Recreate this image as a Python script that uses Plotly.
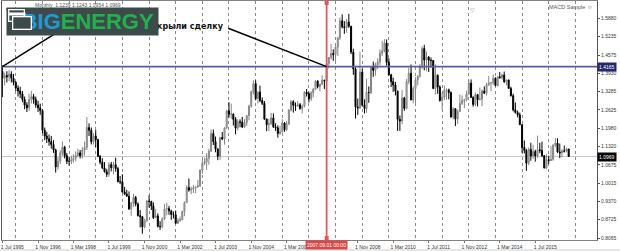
import pandas as pd
import plotly.graph_objects as go

# ---------------- data (EURUSD monthly, Jul 1995 - Oct 2016) ----------------
OPEN = [
    1.400, 1.375, 1.385, 1.380, 1.390, 1.375,
    1.360, 1.340, 1.330, 1.320, 1.300, 1.280, 1.270, 1.300, 1.310, 1.300, 1.280, 1.270,
    1.260, 1.190, 1.170, 1.160, 1.150, 1.140, 1.120, 1.060, 1.080, 1.110, 1.130, 1.100,
    1.080, 1.080, 1.085, 1.090, 1.100, 1.110, 1.100, 1.120, 1.130, 1.200, 1.190, 1.150,
    1.170, 1.157, 1.098, 1.077, 1.057, 1.043, 1.034, 1.069, 1.057, 1.068, 1.054, 1.008,
    1.007, 0.971, 0.964, 0.956, 0.911, 0.932, 0.952, 0.928, 0.887, 0.883, 0.847, 0.868,
    0.939, 0.937, 0.921, 0.880, 0.886, 0.849, 0.848, 0.876, 0.911, 0.912, 0.904, 0.891,
    0.890, 0.860, 0.870, 0.872, 0.902, 0.933, 0.987, 0.978, 0.981, 0.987, 0.989, 0.993,
    1.049, 1.073, 1.078, 1.091, 1.116, 1.179, 1.150, 1.124, 1.098, 1.165, 1.159, 1.199,
    1.259, 1.247, 1.248, 1.229, 1.198, 1.220, 1.219, 1.202, 1.217, 1.242, 1.276, 1.327,
    1.356, 1.303, 1.326, 1.296, 1.286, 1.230, 1.210, 1.213, 1.234, 1.202, 1.199, 1.179,
    1.184, 1.216, 1.192, 1.212, 1.262, 1.292, 1.279, 1.277, 1.281, 1.268, 1.276, 1.325,
    1.320, 1.302, 1.323, 1.336, 1.365, 1.345, 1.354, 1.368, 1.366, 1.427, 1.449, 1.463,
    1.459, 1.486, 1.518, 1.579, 1.558, 1.555, 1.575, 1.560, 1.468, 1.408, 1.273, 1.270,
    1.397, 1.280, 1.267, 1.325, 1.324, 1.415, 1.403, 1.424, 1.433, 1.464, 1.472, 1.500,
    1.432, 1.387, 1.363, 1.351, 1.329, 1.229, 1.223, 1.305, 1.268, 1.363, 1.393, 1.298,
    1.338, 1.369, 1.381, 1.416, 1.481, 1.440, 1.450, 1.439, 1.438, 1.339, 1.386, 1.344,
    1.296, 1.308, 1.333, 1.334, 1.324, 1.237, 1.267, 1.230, 1.257, 1.286, 1.296, 1.299,
    1.319, 1.358, 1.307, 1.282, 1.317, 1.299, 1.301, 1.330, 1.322, 1.352, 1.359, 1.359,
    1.375, 1.349, 1.380, 1.377, 1.387, 1.363, 1.369, 1.339, 1.313, 1.263, 1.253, 1.245,
    1.210, 1.129, 1.119, 1.073, 1.122, 1.099, 1.115, 1.099, 1.121, 1.118, 1.100, 1.056,
    1.086, 1.083, 1.087, 1.138, 1.145, 1.113, 1.110, 1.117, 1.116, 1.1239,
]
HIGH = [
    1.420, 1.395, 1.400, 1.405, 1.400, 1.390,
    1.365, 1.350, 1.345, 1.330, 1.310, 1.290, 1.320, 1.330, 1.320, 1.310, 1.295, 1.285,
    1.265, 1.200, 1.185, 1.175, 1.170, 1.155, 1.125, 1.095, 1.120, 1.150, 1.135, 1.110,
    1.095, 1.100, 1.105, 1.115, 1.125, 1.120, 1.130, 1.150, 1.237, 1.215, 1.200, 1.180,
    1.191, 1.160, 1.102, 1.091, 1.077, 1.053, 1.077, 1.078, 1.078, 1.093, 1.060, 1.028,
    1.034, 0.989, 0.979, 0.973, 0.936, 0.964, 0.957, 0.934, 0.907, 0.886, 0.876, 0.943,
    0.959, 0.940, 0.934, 0.911, 0.895, 0.867, 0.881, 0.928, 0.933, 0.922, 0.908, 0.902,
    0.905, 0.878, 0.884, 0.904, 0.938, 0.995, 1.019, 0.990, 0.996, 0.990, 1.014, 1.050,
    1.087, 1.093, 1.109, 1.125, 1.193, 1.193, 1.168, 1.126, 1.166, 1.184, 1.200, 1.263,
    1.290, 1.285, 1.250, 1.237, 1.229, 1.229, 1.238, 1.230, 1.245, 1.281, 1.331, 1.367,
    1.367, 1.328, 1.349, 1.307, 1.294, 1.232, 1.231, 1.252, 1.250, 1.215, 1.208, 1.206,
    1.230, 1.219, 1.223, 1.265, 1.298, 1.297, 1.289, 1.294, 1.287, 1.282, 1.329, 1.337,
    1.327, 1.329, 1.340, 1.368, 1.368, 1.355, 1.386, 1.370, 1.428, 1.450, 1.497, 1.478,
    1.489, 1.522, 1.591, 1.602, 1.578, 1.585, 1.604, 1.561, 1.480, 1.414, 1.303, 1.470,
    1.409, 1.300, 1.374, 1.346, 1.418, 1.434, 1.430, 1.446, 1.478, 1.508, 1.514, 1.513,
    1.446, 1.391, 1.377, 1.362, 1.331, 1.243, 1.333, 1.309, 1.373, 1.413, 1.424, 1.346,
    1.379, 1.386, 1.425, 1.488, 1.494, 1.470, 1.454, 1.449, 1.440, 1.424, 1.388, 1.350,
    1.323, 1.349, 1.339, 1.338, 1.328, 1.272, 1.268, 1.264, 1.317, 1.314, 1.302, 1.331,
    1.370, 1.371, 1.311, 1.324, 1.318, 1.342, 1.335, 1.346, 1.359, 1.383, 1.361, 1.389,
    1.378, 1.383, 1.397, 1.390, 1.399, 1.370, 1.370, 1.345, 1.320, 1.289, 1.260, 1.253,
    1.212, 1.154, 1.124, 1.129, 1.146, 1.139, 1.121, 1.171, 1.146, 1.150, 1.102, 1.105,
    1.100, 1.134, 1.140, 1.162, 1.162, 1.143, 1.123, 1.136, 1.129, 1.1243,
]
LOW = [
    1.308, 1.350, 1.360, 1.365, 1.360, 1.350,
    1.330, 1.310, 1.305, 1.290, 1.265, 1.255, 1.260, 1.285, 1.285, 1.270, 1.255, 1.245,
    1.180, 1.155, 1.145, 1.135, 1.125, 1.110, 1.040, 1.050, 1.070, 1.100, 1.090, 1.070,
    1.065, 1.070, 1.075, 1.080, 1.095, 1.090, 1.090, 1.100, 1.120, 1.170, 1.140, 1.140,
    1.130, 1.095, 1.069, 1.052, 1.040, 1.024, 1.025, 1.044, 1.034, 1.043, 1.005, 0.999,
    0.968, 0.960, 0.955, 0.907, 0.886, 0.918, 0.920, 0.884, 0.845, 0.823, 0.842, 0.865,
    0.915, 0.907, 0.875, 0.878, 0.845, 0.836, 0.842, 0.872, 0.888, 0.890, 0.872, 0.877,
    0.858, 0.857, 0.865, 0.871, 0.885, 0.932, 0.972, 0.963, 0.967, 0.966, 0.986, 0.988,
    1.035, 1.066, 1.050, 1.068, 1.113, 1.138, 1.112, 1.084, 1.085, 1.155, 1.139, 1.195,
    1.235, 1.231, 1.207, 1.176, 1.190, 1.201, 1.198, 1.199, 1.206, 1.226, 1.270, 1.317,
    1.297, 1.285, 1.290, 1.280, 1.227, 1.187, 1.187, 1.210, 1.199, 1.188, 1.164, 1.173,
    1.183, 1.185, 1.188, 1.209, 1.257, 1.253, 1.259, 1.273, 1.263, 1.250, 1.271, 1.310,
    1.289, 1.294, 1.307, 1.333, 1.339, 1.329, 1.351, 1.337, 1.361, 1.410, 1.442, 1.437,
    1.429, 1.454, 1.511, 1.552, 1.533, 1.537, 1.554, 1.461, 1.387, 1.232, 1.245, 1.266,
    1.274, 1.250, 1.252, 1.288, 1.319, 1.380, 1.384, 1.408, 1.421, 1.454, 1.467, 1.420,
    1.385, 1.344, 1.327, 1.314, 1.188, 1.188, 1.212, 1.259, 1.265, 1.354, 1.297, 1.286,
    1.287, 1.349, 1.378, 1.408, 1.403, 1.400, 1.397, 1.413, 1.336, 1.317, 1.320, 1.292,
    1.263, 1.298, 1.299, 1.300, 1.236, 1.229, 1.205, 1.213, 1.256, 1.280, 1.269, 1.293,
    1.317, 1.306, 1.274, 1.276, 1.275, 1.297, 1.276, 1.319, 1.314, 1.348, 1.329, 1.352,
    1.347, 1.346, 1.374, 1.370, 1.358, 1.350, 1.337, 1.310, 1.257, 1.250, 1.236, 1.209,
    1.110, 1.108, 1.046, 1.066, 1.082, 1.089, 1.079, 1.091, 1.109, 1.095, 1.055, 1.052,
    1.071, 1.081, 1.082, 1.131, 1.110, 1.091, 1.095, 1.111, 1.112, 1.0954,
]
CLOSE = [
    1.375, 1.385, 1.380, 1.390, 1.375, 1.360,
    1.340, 1.330, 1.320, 1.300, 1.280, 1.270, 1.300, 1.310, 1.300, 1.280, 1.270, 1.260,
    1.190, 1.170, 1.160, 1.150, 1.140, 1.120, 1.060, 1.080, 1.110, 1.130, 1.100, 1.080,
    1.080, 1.085, 1.090, 1.100, 1.110, 1.100, 1.120, 1.130, 1.200, 1.190, 1.150, 1.170,
    1.157, 1.098, 1.077, 1.057, 1.043, 1.034, 1.069, 1.057, 1.068, 1.054, 1.008, 1.007,
    0.971, 0.964, 0.956, 0.911, 0.932, 0.952, 0.928, 0.887, 0.883, 0.847, 0.868, 0.939,
    0.937, 0.921, 0.880, 0.886, 0.849, 0.848, 0.876, 0.911, 0.912, 0.904, 0.891, 0.890,
    0.860, 0.870, 0.872, 0.902, 0.933, 0.987, 0.978, 0.981, 0.987, 0.989, 0.993, 1.049,
    1.073, 1.078, 1.091, 1.116, 1.179, 1.150, 1.124, 1.098, 1.165, 1.159, 1.199, 1.259,
    1.247, 1.248, 1.229, 1.198, 1.220, 1.219, 1.202, 1.217, 1.242, 1.276, 1.327, 1.356,
    1.303, 1.326, 1.296, 1.286, 1.230, 1.210, 1.213, 1.234, 1.202, 1.199, 1.179, 1.184,
    1.216, 1.192, 1.212, 1.262, 1.292, 1.279, 1.277, 1.281, 1.268, 1.276, 1.325, 1.320,
    1.302, 1.323, 1.336, 1.365, 1.345, 1.354, 1.368, 1.366, 1.427, 1.449, 1.463, 1.459,
    1.486, 1.518, 1.579, 1.558, 1.555, 1.575, 1.560, 1.468, 1.408, 1.273, 1.270, 1.397,
    1.280, 1.267, 1.325, 1.324, 1.415, 1.403, 1.424, 1.433, 1.464, 1.472, 1.500, 1.432,
    1.387, 1.363, 1.351, 1.329, 1.229, 1.223, 1.305, 1.268, 1.363, 1.393, 1.298, 1.338,
    1.369, 1.381, 1.416, 1.481, 1.440, 1.450, 1.439, 1.438, 1.339, 1.386, 1.344, 1.296,
    1.308, 1.333, 1.334, 1.324, 1.237, 1.267, 1.230, 1.257, 1.286, 1.296, 1.299, 1.319,
    1.358, 1.307, 1.282, 1.317, 1.299, 1.301, 1.330, 1.322, 1.352, 1.359, 1.359, 1.375,
    1.349, 1.380, 1.377, 1.387, 1.363, 1.369, 1.339, 1.313, 1.263, 1.253, 1.245, 1.210,
    1.129, 1.119, 1.073, 1.122, 1.099, 1.115, 1.099, 1.121, 1.118, 1.100, 1.056, 1.086,
    1.083, 1.087, 1.138, 1.145, 1.113, 1.110, 1.117, 1.116, 1.124, 1.0969,
]
DATES = pd.date_range("1995-07-01", periods=len(CLOSE), freq="MS")

X_TICKS = ["1995-07-01", "1996-11-01", "1998-03-01", "1999-07-01", "2000-11-01",
           "2002-03-01", "2003-07-01", "2004-11-01", "2006-03-01", "2007-07-01",
           "2008-11-01", "2010-03-01", "2011-07-01", "2012-11-01", "2014-03-01",
           "2015-07-01"]
X_TICKTEXT = ["1 Jul 1995", "1 Nov 1996", "1 Mar 1998", "1 Jul 1999", "1 Nov 2000",
              "1 Mar 2002", "1 Jul 2003", "1 Nov 2004", "1 Mar 2006", "1 Jul 2007",
              "1 Nov 2008", "1 Mar 2010", "1 Jul 2011", "1 Nov 2012", "1 Mar 2014",
              "1 Jul 2015"]
Y_TICKS = [1.5880, 1.5235, 1.4575, 1.3930, 1.3285, 1.2625, 1.1980, 1.1320,
           1.0675, 1.0015, 0.9370, 0.8725, 0.8065]
Y_TICKTEXT = ["%.4f" % v for v in Y_TICKS]

LEVEL_BLUE = 1.4165          # horizontal level
LAST_PRICE = 1.0969          # current price line
CLOSE_DATE = "2007-09-01"    # vertical red line (deal closed)
LINE_A = (("1995-07-01", 1.4165), ("1998-01-01", 1.565))
LINE_B = (("2003-12-22", 1.5525), ("2007-09-01", 1.4165))
HEADER = "Monthly  1.1239 1.1243 1.0954 1.0969"

# ---------------- layout geometry ----------------
W, H = 620, 251
PL, PR, PT, PB = 2, 597, 1, 240
X_RANGE = ["1995-06-26", "2017-10-24"]
Y_RANGE = [0.8004, 1.6495]


def px(x):
    return (x - PL) / (PR - PL)


def py(y):
    return (PB - y) / (PB - PT)


fig = go.Figure()
fig.add_trace(go.Candlestick(
    x=DATES, open=OPEN, high=HIGH, low=LOW, close=CLOSE,
    increasing=dict(line=dict(color="#858585", width=1), fillcolor="#c4c4c4"),
    decreasing=dict(line=dict(color="#000000", width=1), fillcolor="#000000"),
    whiskerwidth=0, showlegend=False, hoverinfo="skip",
))
# helper trace so the yearly-grid axis is drawn
fig.add_trace(go.Scatter(x=X_RANGE, y=[Y_RANGE[0], Y_RANGE[0]], xaxis="x2",
                         mode="lines", line=dict(width=0), showlegend=False,
                         hoverinfo="skip"))
# small red squares at the ends of the vertical line
span = Y_RANGE[1] - Y_RANGE[0]
fig.add_trace(go.Scatter(x=[CLOSE_DATE, CLOSE_DATE],
                         y=[Y_RANGE[1] - 0.008 * span, Y_RANGE[0] + 0.008 * span],
                         mode="markers", marker=dict(symbol="square", size=4, color="#e05555"),
                         cliponaxis=False, showlegend=False, hoverinfo="skip"))

shapes = [
    dict(type="line", xref="paper", x0=0, x1=1, yref="y", y0=LAST_PRICE, y1=LAST_PRICE,
         line=dict(color="#c8c8c8", width=1), layer="below"),
    dict(type="line", xref="paper", x0=0, x1=1, yref="y", y0=LEVEL_BLUE, y1=LEVEL_BLUE,
         line=dict(color="#5a5e9e", width=1.8), layer="above"),
    dict(type="line", xref="x", x0=CLOSE_DATE, x1=CLOSE_DATE, yref="paper", y0=0, y1=1,
         line=dict(color="#e05a5a", width=1.8), layer="above"),
    dict(type="line", xref="x", yref="y", x0=LINE_A[0][0], y0=LINE_A[0][1],
         x1=LINE_A[1][0], y1=LINE_A[1][1], line=dict(color="#000000", width=1.5)),
    dict(type="line", xref="x", yref="y", x0=LINE_B[0][0], y0=LINE_B[0][1],
         x1=LINE_B[1][0], y1=LINE_B[1][1], line=dict(color="#000000", width=1.5)),
    # window strip at the bottom
    dict(type="rect", xref="paper", yref="paper", x0=px(0), x1=px(620), y0=py(251), y1=py(249),
         fillcolor="#e6e6e6", line=dict(width=0)),
]

small = dict(family="Liberation Sans, Arial, sans-serif", size=5, color="#333333")
annotations = [
    dict(text=HEADER, xref="paper", yref="paper", x=px(33), y=py(5), xanchor="left",
         yanchor="middle", showarrow=False, font=dict(family="Liberation Sans", size=5, color="#555555")),
    dict(text="▼", xref="paper", yref="paper", x=px(3.5), y=py(5), showarrow=False,
         font=dict(family="DejaVu Sans", size=4, color="#000000")),
    dict(text="▽", xref="paper", yref="paper", x=px(477), y=py(4), showarrow=False,
         font=dict(family="DejaVu Sans", size=6, color="#999999")),
    dict(text="MACD Sample ☺", xref="paper", yref="paper", x=px(595), y=py(7),
         xanchor="right", yanchor="middle", showarrow=False,
         font=dict(family="Liberation Sans, DejaVu Sans", size=5.5, color="#555555")),
    dict(text="<b>Закрыли сделку</b>", xref="paper", yref="paper", x=px(226), y=py(26),
         xanchor="right", yanchor="middle", showarrow=False,
         font=dict(family="DejaVu Sans", size=8, color="#111111")),
    # logo
    dict(text="<b><span style='color:#1e9ad6'>BIG</span><span style='color:#22b04c'>ENERGY</span></b>",
         xref="paper", yref="paper", x=px(6), y=py(6.7), xanchor="left", yanchor="top",
         width=143, height=19, borderpad=4, align="right", valign="middle",
         bgcolor="#3d4a4a", showarrow=False,
         font=dict(family="Liberation Sans Narrow, Liberation Sans", size=22, color="#1e9ad6")),
    # card icon in the logo
    dict(text=" ", xref="paper", yref="paper", x=px(8), y=py(9), xanchor="left", yanchor="top",
         width=14, height=10, borderpad=0, bordercolor="#ffffff", borderwidth=1.3,
         showarrow=False, font=dict(size=2)),
    dict(text=" ", xref="paper", yref="paper", x=px(8), y=py(12), xanchor="left", yanchor="top",
         width=16, height=1.5, borderpad=0, bgcolor="#ffffff",
         showarrow=False, font=dict(size=1)),
    dict(text=" ", xref="paper", yref="paper", x=px(12), y=py(16), xanchor="left", yanchor="top",
         width=17, height=11, borderpad=0, bordercolor="#ffffff", borderwidth=1.3,
         bgcolor="#3d4a4a", showarrow=False, font=dict(size=2)),
    # price boxes on the right scale
    dict(text="1.4165", xref="paper", yref="y", x=1.0, y=LEVEL_BLUE, xanchor="left",
         yanchor="middle", showarrow=False, bgcolor="#23276e", borderpad=1,
         font=dict(family="Liberation Sans", size=5, color="#ffffff")),
    dict(text="1.0969", xref="paper", yref="y", x=1.0, y=LAST_PRICE, xanchor="left",
         yanchor="middle", showarrow=False, bgcolor="#000000", borderpad=1,
         font=dict(family="Liberation Sans", size=5, color="#ffffff")),
    dict(text="2007.09.01 00:00", xref="x", yref="paper", x=CLOSE_DATE, y=py(245),
         xanchor="center", yanchor="middle", showarrow=False, bgcolor="#d94848", borderpad=1,
         font=dict(family="Liberation Sans", size=5, color="#ffffff")),
]

fig.update_layout(
    width=W, height=H,
    margin=dict(l=PL, r=W - PR, t=PT, b=H - PB, pad=0),
    paper_bgcolor="#ffffff", plot_bgcolor="#ffffff",
    showlegend=False,
    shapes=shapes, annotations=annotations,
    xaxis=dict(type="date", range=X_RANGE, rangeslider=dict(visible=False),
               tickmode="array", tickvals=X_TICKS, ticktext=X_TICKTEXT,
               tickfont=small, ticks="outside", ticklen=2, tickcolor="#777777",
               ticklabelshift=10, showgrid=False, zeroline=False,
               showline=True, linecolor="#808080", linewidth=1, mirror=True),
    xaxis2=dict(type="date", range=X_RANGE, overlaying="x", anchor="y",
                tick0="1996-01-01", dtick="M12", showgrid=True, griddash="dot",
                gridcolor="#8a8a8a", gridwidth=1, showticklabels=False, ticks="",
                zeroline=False, showline=False),
    yaxis=dict(range=Y_RANGE, side="right", tickmode="array", tickvals=Y_TICKS,
               ticktext=Y_TICKTEXT, tickfont=small, ticks="outside", ticklen=2,
               tickcolor="#555555", showgrid=False, zeroline=False,
               showline=True, linecolor="#555555", linewidth=1, mirror=True),
)

fig.write_html("out.html")
